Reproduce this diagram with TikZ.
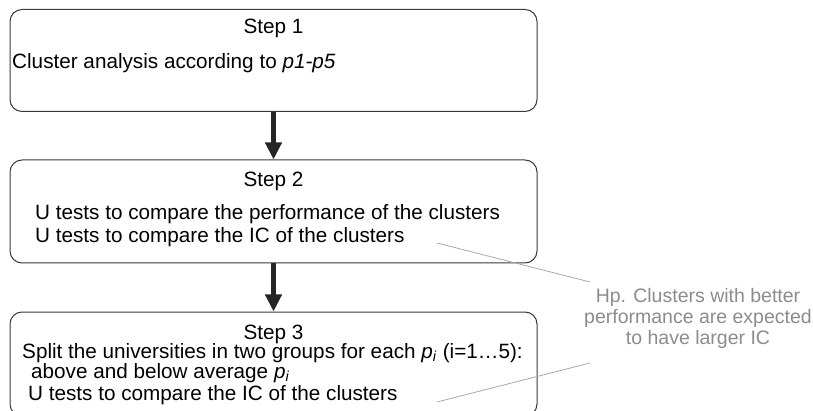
\documentclass[tikz,border=0pt]{standalone}
\usepackage{fontspec}
\setmainfont{Liberation Sans}
\usetikzlibrary{positioning, arrows.meta}
\definecolor{boxLine}{HTML}{3A3A3A}
\definecolor{noteGray}{HTML}{8C8C8C}
\definecolor{leaderGray}{HTML}{A8A8A8}

\newcommand{\pidx}{\textit{p}\textsubscript{\textit{i}}}

\begin{document}
\begin{tikzpicture}[x=1pt, y=-1pt,
        every node/.style={font=\fontsize{20.7}{25}\selectfont, inner sep=0pt},
        stepbox/.style={rectangle, rounded corners=12pt, draw=boxLine, line width=1pt,
                        minimum width=527pt},
        txtline/.style={anchor=base west},
        steptitle/.style={anchor=base},
        arr/.style={-{Triangle[length=17pt, width=16pt]}, line width=4.5pt, black!85},
        leader/.style={leaderGray, line width=0.8pt},
        note/.style={text=noteGray, align=center, font=\fontsize{19.5}{21}\selectfont},
      ]
        \useasboundingbox (0,0) rectangle (813,411);
        \clip (0,0) rectangle (813,411);

        % Step 1
        \node[stepbox, minimum height=102pt] (s1) at (273.5,60.5) {};
        \node[steptitle] (t1) at (273.5,34) {Step 1};
        \node[txtline] (c1) at (12,69) {Cluster analysis according to \textit{p1-p5}};

        % Step 2
        \node[stepbox, minimum height=103pt] (s2) at (273.5,211.5) {};
        \node[steptitle] (t2) at (273.5,187) {Step 2};
        \node[txtline] (u1) at (35,220) {U tests to compare the performance of the clusters};
        \node[txtline] (u2) at (35,243) {U tests to compare the IC of the clusters};

        % Step 3 (runs off the bottom edge)
        \node[stepbox, minimum height=104pt] (s3) at (273.5,364) {};
        \node[steptitle] (t3) at (273.5,339) {Step 3};
        \node[txtline] (sp) at (22,358) {Split the universities in two groups for each \pidx{} (i=1…5):};
        \node[txtline] (ab) at (31,378) {above and below average \pidx};
        \node[txtline] (u3) at (28,400) {U tests to compare the IC of the clusters};

        \draw[arr] (s1.south) -- (s2.north);
        \draw[arr] (s2.south) -- (s3.north);

        % Hypothesis note with its two leaders
        \node[note] (hyp) at (698,318) {Hp. Clusters with better\\performance are expected\\to have larger IC};
        \coordinate (l2) at (437,243);
        \coordinate (l3) at (437,402);
        \coordinate (hypTop) at (590,282);
        \coordinate (hypBot) at (590,363);
        \draw[leader] (l2) -- (hypTop);
        \draw[leader] (l3) -- (hypBot);
      \end{tikzpicture}
\end{document}
